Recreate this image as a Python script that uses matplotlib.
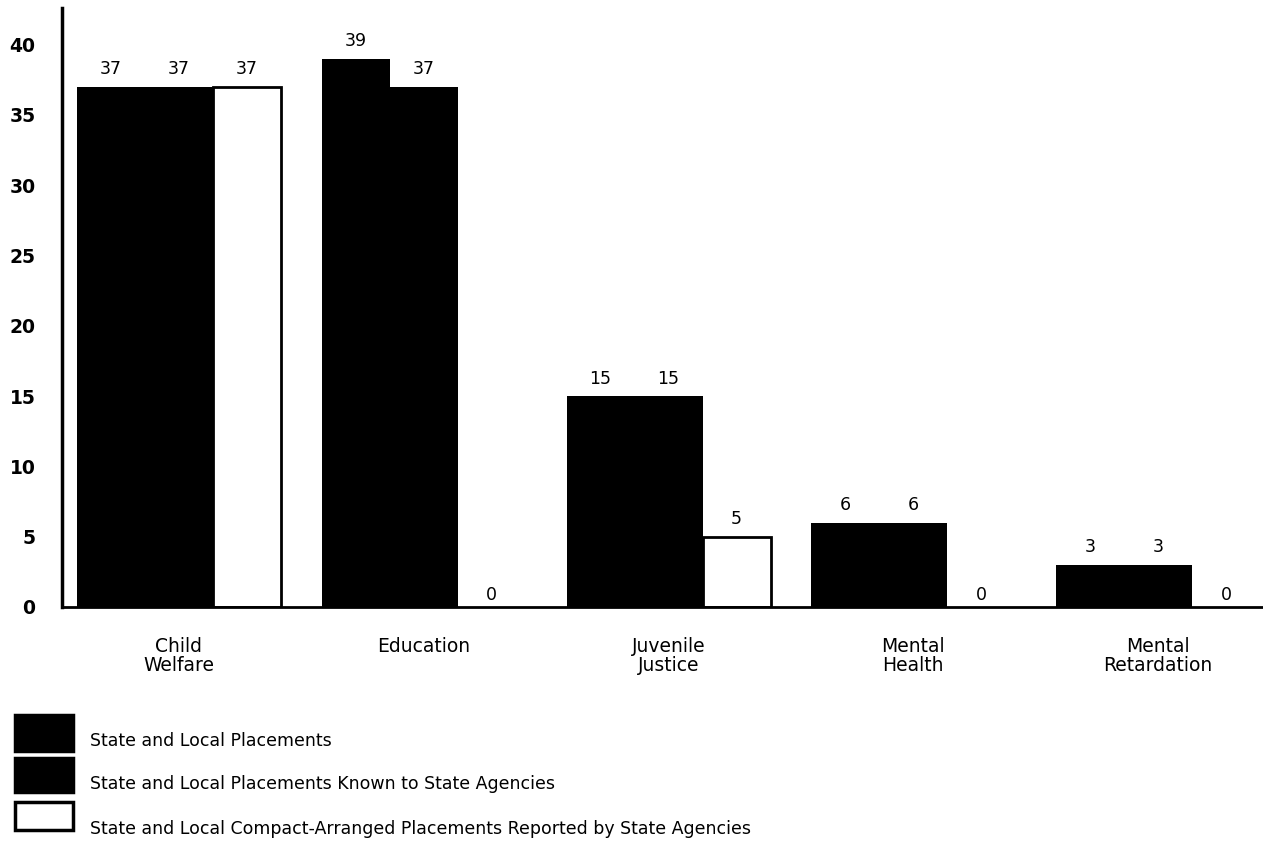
import matplotlib.pyplot as plt
import matplotlib.patches as mpatches
import numpy as np

categories = ["Child\nWelfare", "Education", "Juvenile\nJustice", "Mental\nHealth", "Mental\nRetardation"]
state_local = [37, 39, 15, 6, 3]
known_to_state = [37, 37, 15, 6, 3]
compact_reported = [37, 0, 5, 0, 0]
yticks = [0, 5, 10, 15, 20, 25, 30, 35, 40]

legend_labels = [
    "State and Local Placements",
    "State and Local Placements Known to State Agencies",
    "State and Local Compact-Arranged Placements Reported by State Agencies",
]

plt.rcParams["font.family"] = ["DejaVu Sans"]

fig = plt.figure(figsize=(12.63, 8.46), dpi=100)
ax = fig.add_axes([62 / 1263, 1 - 607 / 846, 1 - 62 / 1263, 599 / 846])

group_step = 3.6
offset = 0.22
width = 1.0
base = np.arange(len(categories)) * group_step + offset

series = [state_local, known_to_state, compact_reported]
faces = ["black", "black", "white"]
for j, (vals, fc) in enumerate(zip(series, faces)):
    x = base + 0.5 + j * width
    for xi, v in zip(x, vals):
        if v > 0:
            ax.bar(xi, v, width=width, color=fc,
                   edgecolor="black" if fc == "white" else fc,
                   linewidth=2 if fc == "white" else 0, zorder=2)
        ax.text(xi, v + 0.6 if v > 0 else 0.2, str(v), ha="center", va="bottom",
                fontsize=12.5, color="black")

ax.set_xlim(0, 1201 / 68)
ax.set_ylim(0, 42.6)
ax.set_yticks(yticks)
ax.set_yticklabels([str(t) for t in yticks], fontsize=13.5, fontweight="bold")
ax.tick_params(axis="y", length=0, pad=19)
ax.set_xticks([])
for s in ["top", "right"]:
    ax.spines[s].set_visible(False)
ax.spines["left"].set_linewidth(2.5)
ax.spines["bottom"].set_linewidth(2)

for b, name in zip(base, categories):
    ax.text(b + 1.5, -2.1, name, ha="center", va="top", fontsize=13.5,
            linespacing=1.05, transform=ax.transData, clip_on=False)

# legend drawn below the chart
sw_y = [715, 758, 802]
sw_h = [36, 34, 28]
txt_y = [741, 784, 829]
for k, lab in enumerate(legend_labels):
    fc = "white" if k == 2 else "black"
    rect = mpatches.Rectangle((15 / 1263, 1 - (sw_y[k] + sw_h[k]) / 846),
                              58 / 1263, sw_h[k] / 846,
                              transform=fig.transFigure, facecolor=fc,
                              edgecolor="black", linewidth=2.5)
    fig.patches.append(rect)
    fig.text(90 / 1263, 1 - txt_y[k] / 846, lab, ha="left", va="center", fontsize=12.5)

fig.savefig("out.png", dpi=100)
